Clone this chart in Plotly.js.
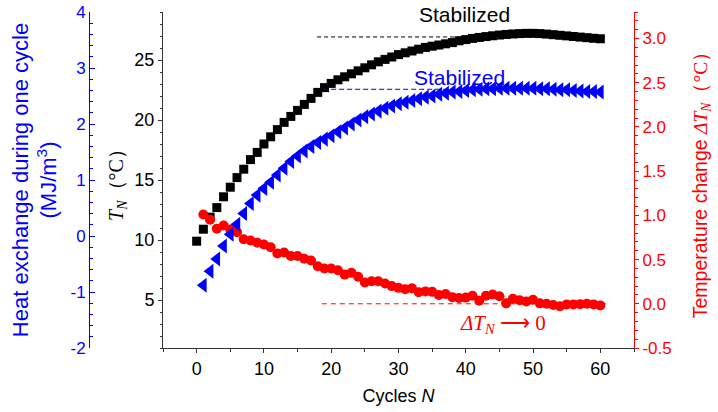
<!DOCTYPE html>
<html><head><meta charset="utf-8">
<script src="https://cdn.plot.ly/plotly-3.0.1.min.js"></script>
<style>html,body{margin:0;padding:0;background:#fff}#chart{width:718px;height:412px}</style>
</head><body><div id="chart"></div>
<script>
// ---- data ----
const cycles = [0,1,2,3,4,5,6,7,8,9,10,11,12,13,14,15,16,17,18,19,20,21,22,23,24,25,26,27,28,29,30,31,32,33,34,35,36,37,38,39,40,41,42,43,44,45,46,47,48,49,50,51,52,53,54,55,56,57,58,59,60];
const cyclesFrom1 = [1,2,3,4,5,6,7,8,9,10,11,12,13,14,15,16,17,18,19,20,21,22,23,24,25,26,27,28,29,30,31,32,33,34,35,36,37,38,39,40,41,42,43,44,45,46,47,48,49,50,51,52,53,54,55,56,57,58,59,60];
// T_N (°C), black squares, N = 0..60
const tempTN = [9.9,10.9,11.9,12.7,13.6,14.4,15.2,15.9,16.7,17.3,18.0,18.6,19.2,19.8,20.3,20.8,21.3,21.8,22.3,22.7,23.05,23.35,23.6,23.85,24.1,24.35,24.6,24.85,25.05,25.25,25.45,25.6,25.75,25.9,26.05,26.15,26.25,26.35,26.45,26.6,26.7,26.8,26.88,26.95,27.02,27.08,27.13,27.17,27.2,27.22,27.22,27.2,27.16,27.11,27.06,27.01,26.96,26.91,26.86,26.81,26.77];
// Heat exchange during one cycle (MJ/m3), blue triangles, N = 1..60
const heatExchange = [-0.88,-0.63,-0.41,-0.18,0.03,0.21,0.40,0.58,0.73,0.85,0.96,1.09,1.21,1.33,1.43,1.52,1.60,1.67,1.73,1.79,1.86,1.93,2.00,2.07,2.13,2.18,2.23,2.28,2.32,2.36,2.39,2.42,2.45,2.48,2.50,2.53,2.55,2.57,2.58,2.60,2.61,2.62,2.63,2.63,2.64,2.64,2.64,2.64,2.64,2.64,2.63,2.63,2.62,2.61,2.61,2.60,2.59,2.58,2.58,2.57];
// Temperature change ΔT_N (°C), red circles, N = 1..60
const deltaTN = [1.01,0.95,0.85,0.885,0.84,0.81,0.73,0.715,0.69,0.67,0.64,0.57,0.58,0.54,0.54,0.51,0.49,0.425,0.40,0.40,0.38,0.33,0.35,0.305,0.24,0.255,0.255,0.23,0.20,0.18,0.165,0.175,0.13,0.14,0.135,0.10,0.11,0.075,0.065,0.07,0.09,0.035,0.09,0.105,0.085,0.005,0.057,0.04,0.027,0.045,0.005,0.0,-0.013,-0.028,-0.007,-0.007,-0.004,0.0,-0.007,-0.018];
// reference (dashed) levels
const stabTN = 26.92, stabTNSpan = [17.9, 42];
const stabHeat = 2.62, stabHeatSpan = [18.8, 38];
const zeroDelta = 0, zeroDeltaSpan = [18.6, 61];
// tick labels
const xTickVals = [0,10,20,30,40,50,60];
const xTickText = ['0','10','20','30','40','50','60'];
const tTickVals = [5,10,15,20,25];
const tTickText = ['5','10','15','20','25'];
const heatTickVals = [-2,-1,0,1,2,3,4];
const heatTickText = ['-2','-1','0','1','2','3','4'];
const dTickVals = [-0.5,0,0.5,1,1.5,2,2.5,3];
const dTickText = ['-0.5','0.0','0.5','1.0','1.5','2.0','2.5','3.0'];

const BLUE = '#0000ff', RED = '#ff0000', BLK = '#000000', AX = '#333333';
const SANS = 'Arial, "Liberation Sans", sans-serif';
const SERIF = '"Times New Roman", "Liberation Serif", serif';

const traces = [
  {x: stabTNSpan, y: [stabTN, stabTN], yaxis: 'y', mode: 'lines', line: {color: BLK, width: 1, dash: '4px,3px'}, hoverinfo: 'skip'},
  {x: cycles, y: tempTN, yaxis: 'y', mode: 'markers', name: 'T_N', marker: {symbol: 'square', size: 9, color: BLK}},
  {x: zeroDeltaSpan, y: [zeroDelta, zeroDelta], yaxis: 'y2', mode: 'lines', line: {color: RED, width: 1, dash: '5px,4px'}, hoverinfo: 'skip'},
  {x: cyclesFrom1, y: deltaTN, yaxis: 'y2', mode: 'markers', name: 'ΔT_N', marker: {symbol: 'circle', size: 10, color: RED}},
  {x: stabHeatSpan, y: [stabHeat, stabHeat], yaxis: 'y3', mode: 'lines', line: {color: BLUE, width: 1, dash: '5px,3px'}, hoverinfo: 'skip'},
  {x: cyclesFrom1, y: heatExchange, yaxis: 'y3', mode: 'markers', name: 'Heat exchange', marker: {symbol: 'triangle-left', size: 13, color: BLUE}}
];

const layout = {
  width: 718, height: 412,
  margin: {l: 0, r: 84, t: 12, b: 64},
  paper_bgcolor: '#fff', plot_bgcolor: '#fff',
  showlegend: false,
  font: {family: SANS, color: BLK},
  xaxis: {
    domain: [0.2571, 1], range: [-5, 65],
    tickmode: 'array', tickvals: xTickVals, ticktext: xTickText,
    ticks: 'outside', ticklen: 4, tickcolor: AX, tickwidth: 1,
    showline: true, linecolor: AX, linewidth: 1, showgrid: false, zeroline: false,
    tickfont: {size: 18, color: BLK},
    minor: {tickmode: 'linear', tick0: -5, dtick: 5, ticks: 'outside', ticklen: 3, tickcolor: AX, showgrid: false},
    title: {text: 'Cycles <i>N</i>', font: {size: 18, color: BLK}, standoff: 11}
  },
  yaxis: {
    range: [1, 29],
    tickmode: 'array', tickvals: tTickVals, ticktext: tTickText,
    ticks: 'outside', ticklen: 4, tickcolor: AX,
    showline: true, linecolor: AX, linewidth: 1, showgrid: false, zeroline: false,
    tickfont: {size: 18, color: BLK},
    minor: {tickmode: 'linear', tick0: 0, dtick: 1, ticks: 'outside', ticklen: 2.5, tickcolor: AX, showgrid: false},
    title: {text: '<i>T</i><sub><i>N</i></sub>（°C）', font: {family: SERIF, size: 20, color: BLK}, standoff: 5}
  },
  yaxis2: {
    overlaying: 'y', side: 'right', anchor: 'x',
    range: [-0.5, 3.3],
    tickmode: 'array', tickvals: dTickVals, ticktext: dTickText,
    ticks: 'outside', ticklen: 4, tickcolor: RED,
    showline: true, linecolor: RED, linewidth: 1, showgrid: false, zeroline: false,
    tickfont: {size: 17, color: RED},
    minor: {tickmode: 'linear', tick0: 0, dtick: 0.1, ticks: 'outside', ticklen: 2.5, tickcolor: RED, showgrid: false},
    title: {text: 'Temperature change <span style="font-family:Liberation Serif"><i>ΔT</i><sub><i>N</i></sub>（°C）</span>', font: {size: 19.5, color: RED}, standoff: 22}
  },
  yaxis3: {
    overlaying: 'y', side: 'left', anchor: 'free', position: 0.1404,
    range: [-2, 4],
    tickmode: 'array', tickvals: heatTickVals, ticktext: heatTickText,
    ticks: 'inside', ticklen: 5, tickcolor: BLUE,
    showline: true, linecolor: BLUE, linewidth: 1, showgrid: false, zeroline: false,
    tickfont: {size: 17, color: BLUE},
    minor: {tickmode: 'linear', tick0: 0, dtick: 0.2, ticks: 'inside', ticklen: 3, tickcolor: BLUE, showgrid: false},
    title: {text: 'Heat exchange during one cycle<br>(MJ/m<sup>3</sup>)', font: {size: 22, color: BLUE}, standoff: 6}
  },
  annotations: [
    {x: 39.8, y: 28.8, xref: 'x', yref: 'y', text: 'Stabilized', showarrow: false, font: {size: 21, color: BLK}},
    {x: 39.1, y: 23.58, xref: 'x', yref: 'y', text: 'Stabilized', showarrow: false, font: {size: 21, color: BLUE}},
    {x: 45.6, y: -0.233, xref: 'x', yref: 'y2', text: '<i>ΔT</i><sub><i>N</i></sub> ⟶ 0', showarrow: false, font: {family: SERIF, size: 21, color: RED}}
  ]
};

Plotly.newPlot('chart', traces, layout, {displayModeBar: false, staticPlot: true});
</script></body></html>
